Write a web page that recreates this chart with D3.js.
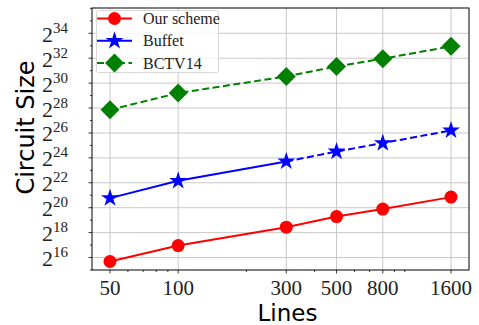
<!DOCTYPE html>
<html>
<head>
  <meta charset="utf-8">
  <script src="https://cdnjs.cloudflare.com/ajax/libs/d3/7.8.5/d3.min.js"></script>
  <style>
    body { margin: 0; padding: 0; background: #fff; }
    .grid line { stroke: #c8c8c8; stroke-width: 1; }
    text.serif, text.serif tspan { font-family: "Liberation Serif", "DejaVu Serif", "Times New Roman", serif; fill: #222; }
  </style>
</head>
<body>
<svg width="479" height="325"></svg>
<script>
  // x values (number of lines)
  let lines = [50, 100, 300, 500, 800, 1600];
  // circuit sizes given as log2 exponents
  let ourScheme = [15.68, 16.96, 18.44, 19.29, 19.89, 20.85];
  let buffet = [20.77, 22.16, 23.71, 24.51, 25.19, 26.2];
  let bctv14 = [27.86, 29.2, 30.54, 31.34, 31.96, 32.95];
  let yTickExps = [16, 18, 20, 22, 24, 26, 28, 30, 32, 34];
  let xTicks = [50, 100, 300, 500, 800, 1600];

  let svg = d3.select("svg"),
    margin = { top: 8, right: 10, bottom: 55, left: 92 },
    W = 479, H = 325,
    pLeft = margin.left, pRight = W - margin.right,
    pTop = margin.top, pBottom = H - margin.bottom;

  //scales
  let x = d3.scaleLog().domain([41.65, 1921]).range([pLeft, pRight]);
  let y = d3.scaleLog().base(2).domain([Math.pow(2, 15), Math.pow(2, 36.03)]).range([pBottom, pTop]);

  //grid
  let grid = svg.append("g").attr("class", "grid");
  xTicks.forEach(function(t) {
    grid.append("line").attr("x1", x(t)).attr("x2", x(t)).attr("y1", pTop).attr("y2", pBottom);
  });
  yTickExps.forEach(function(e) {
    grid.append("line").attr("x1", pLeft).attr("x2", pRight)
      .attr("y1", y(Math.pow(2, e))).attr("y2", y(Math.pow(2, e)));
  });

  //ticks
  let ticks = svg.append("g").attr("stroke", "#000").attr("stroke-width", 0.8);
  xTicks.forEach(function(t) {
    ticks.append("line").attr("x1", x(t)).attr("x2", x(t)).attr("y1", pBottom).attr("y2", pBottom + 3.5);
  });
  [60, 70, 80, 90, 200, 400, 600, 700, 900, 1000].forEach(function(t) {
    ticks.append("line").attr("x1", x(t)).attr("x2", x(t)).attr("y1", pBottom).attr("y2", pBottom + 2);
  });
  for (let e = 15; e <= 36; e++) {
    let major = yTickExps.indexOf(e) >= 0;
    ticks.append("line").attr("x1", pLeft).attr("x2", pLeft - (major ? 3.5 : 2))
      .attr("y1", y(Math.pow(2, e))).attr("y2", y(Math.pow(2, e)));
  }

  //tick labels
  xTicks.forEach(function(t) {
    svg.append("text").attr("class", "serif")
      .attr("x", x(t)).attr("y", 295)
      .attr("text-anchor", "middle")
      .style("font-size", "21px")
      .text(t);
  });
  yTickExps.forEach(function(e) {
    let t = svg.append("text").attr("class", "serif")
      .attr("x", 68).attr("y", y(Math.pow(2, e)) + 8.5)
      .attr("text-anchor", "end");
    t.append("tspan").style("font-size", "22px").text("2");
    t.append("tspan").style("font-size", "15px").attr("dy", -9).text(e);
  });

  //axis titles
  svg.append("text")
    .attr("x", 287.5).attr("y", 321)
    .attr("text-anchor", "middle")
    .style("font", "23px 'DejaVu Sans'")
    .text("Lines");
  svg.append("text")
    .attr("transform", "translate(34,127.5) rotate(-90)")
    .attr("text-anchor", "middle")
    .style("font", "24px 'DejaVu Sans'")
    .text("Circuit Size");

  //series
  let line = d3.line()
    .x(function(d) { return x(d[0]); })
    .y(function(d) { return y(Math.pow(2, d[1])); });

  function pts(vals) {
    return lines.map(function(l, i) { return [l, vals[i]]; });
  }

  let starPath = d3.symbol().type(d3.symbolStar).size(100)();
  let diamondPath = "M0,-9.5L9.5,0L0,9.5L-9.5,0Z";

  let series = [
    { name: "Our scheme", color: "#ff0000", vals: ourScheme, solidTo: 6, marker: "circle" },
    { name: "Buffet", color: "#0000ff", vals: buffet, solidTo: 3, marker: "star" },
    { name: "BCTV14", color: "#008000", vals: bctv14, solidTo: 0, marker: "diamond" }
  ];

  function drawMarker(g, m, color) {
    if (m === "circle") g.append("circle").attr("r", 6.5).attr("fill", color);
    else if (m === "star") g.append("path").attr("d", starPath).attr("fill", color);
    else g.append("path").attr("d", diamondPath).attr("fill", color);
  }

  series.forEach(function(s) {
    let p = pts(s.vals);
    if (s.solidTo > 1) {
      svg.append("path").attr("d", line(p.slice(0, s.solidTo)))
        .attr("fill", "none").attr("stroke", s.color).attr("stroke-width", 2);
    }
    if (s.solidTo < 6) {
      svg.append("path").attr("d", line(p.slice(Math.max(0, s.solidTo - 1))))
        .attr("fill", "none").attr("stroke", s.color).attr("stroke-width", 2)
        .attr("stroke-dasharray", "7,3.5");
    }
    p.forEach(function(d) {
      let g = svg.append("g").attr("transform", "translate(" + x(d[0]) + "," + y(Math.pow(2, d[1])) + ")");
      drawMarker(g, s.marker, s.color);
    });
  });

  //frame
  svg.append("rect").attr("x", pLeft).attr("y", pTop)
    .attr("width", pRight - pLeft).attr("height", pBottom - pTop)
    .attr("fill", "none").attr("stroke", "#000").attr("stroke-width", 1);

  //legend
  let legend = svg.append("g");
  legend.append("rect").attr("x", 96.5).attr("y", 10.5).attr("width", 122).attr("height", 62)
    .attr("rx", 2).attr("fill", "#fff").attr("fill-opacity", 0.8)
    .attr("stroke", "#d8d8d8").attr("stroke-width", 1);
  series.forEach(function(s, i) {
    let yy = 18.5 + i * 22.3;
    let ln = legend.append("line").attr("x1", 97).attr("x2", 132).attr("y1", yy).attr("y2", yy)
      .attr("stroke", s.color).attr("stroke-width", 2);
    if (s.solidTo === 0) ln.attr("stroke-dasharray", "7,3.5");
    let g = legend.append("g").attr("transform", "translate(114.5," + yy + ")");
    drawMarker(g, s.marker, s.color);
    legend.append("text").attr("class", "serif")
      .attr("x", 143).attr("y", yy + 5.5)
      .style("font-size", "16px")
      .text(s.name);
  });
</script>
</body>
</html>
